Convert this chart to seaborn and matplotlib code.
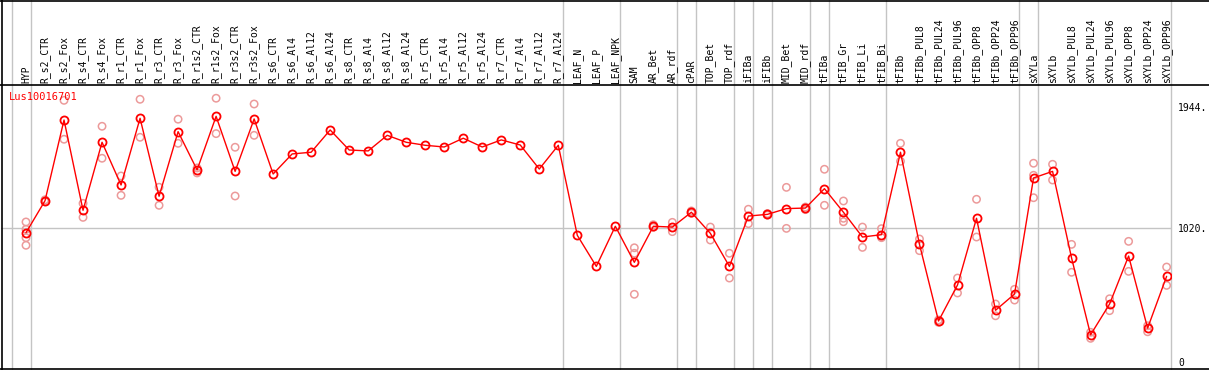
import matplotlib
matplotlib.use("Agg")
import matplotlib.pyplot as plt
import matplotlib.transforms as mtransforms
from matplotlib.lines import Line2D
import seaborn as sns
import pandas as pd

gene = "Lus10016701"

samples = ["HYP", "R_s2_CTR", "R_s2_Fox", "R_s4_CTR", "R_s4_Fox", "R_r1_CTR", "R_r1_Fox",
           "R_r3_CTR", "R_r3_Fox", "R_r1s2_CTR", "R_r1s2_Fox", "R_r3s2_CTR", "R_r3s2_Fox",
           "R_s6_CTR", "R_s6_Al4", "R_s6_Al12", "R_s6_Al24", "R_s8_CTR", "R_s8_Al4",
           "R_s8_Al12", "R_s8_Al24", "R_r5_CTR", "R_r5_Al4", "R_r5_Al12", "R_r5_Al24",
           "R_r7_CTR", "R_r7_Al4", "R_r7_Al12", "R_r7_Al24", "LEAF_N", "LEAF_P", "LEAF_NPK",
           "SAM", "AR_Bet", "AR_rdf", "cPAR", "TOP_Bet", "TOP_rdf", "iFIBa", "iFIBb",
           "MID_Bet", "MID_rdf", "tFIBa", "tFIB_Gr", "tFIB_Li", "tFIB_Bi", "tFIBb",
           "tFIBb_PUL8", "tFIBb_PUL24", "tFIBb_PUL96", "tFIBb_OPP8", "tFIBb_OPP24",
           "tFIBb_OPP96", "sXYLa", "sXYLb", "sXYLb_PUL8", "sXYLb_PUL24", "sXYLb_PUL96",
           "sXYLb_OPP8", "sXYLb_OPP24", "sXYLb_OPP96"]

mean_expr = [984, 1228, 1844, 1155, 1674, 1348, 1857, 1262, 1755, 1463, 1872, 1452, 1852,
             1432, 1585, 1598, 1768, 1615, 1608, 1727, 1674, 1651, 1638, 1705, 1638,
             1692, 1653, 1470, 1651, 964, 727, 1033, 758, 1033, 1027, 1140, 979, 727,
             1111, 1124, 1168, 1172, 1320, 1140, 951, 969, 1598, 895, 310, 585, 1094,
             392, 516, 1402, 1452, 791, 205, 440, 806, 256, 651]

# replicates (long format)
rep_sample = ["HYP"] * 4 + ["R_s2_CTR"] * 2 + ["R_s2_Fox"] * 2 + ["R_s4_CTR"] * 2 + \
    ["R_s4_Fox"] * 2 + ["R_r1_CTR"] * 2 + ["R_r1_Fox"] * 2 + ["R_r3_CTR"] * 2 + \
    ["R_r3_Fox"] * 2 + ["R_r1s2_CTR"] * 2 + ["R_r1s2_Fox"] * 2 + ["R_r3s2_CTR"] * 2 + \
    ["R_r3s2_Fox"] * 2 + ["SAM"] * 3 + ["AR_Bet"] * 2 + ["AR_rdf"] * 2 + ["cPAR"] * 2 + \
    ["TOP_Bet"] * 2 + ["TOP_rdf"] * 2 + ["iFIBa"] * 2 + ["iFIBb"] * 2 + ["MID_Bet"] * 2 + \
    ["MID_rdf"] * 2 + ["tFIBa"] * 2 + ["tFIB_Gr"] * 3 + ["tFIB_Li"] * 2 + ["tFIB_Bi"] * 2 + \
    ["tFIBb"] * 2 + ["tFIBb_PUL8"] * 2 + ["tFIBb_PUL24"] * 2 + ["tFIBb_PUL96"] * 2 + \
    ["tFIBb_OPP8"] * 2 + ["tFIBb_OPP24"] * 2 + ["tFIBb_OPP96"] * 2 + ["sXYLa"] * 3 + \
    ["sXYLb"] * 2 + ["sXYLb_PUL8"] * 2 + ["sXYLb_PUL24"] * 2 + ["sXYLb_PUL96"] * 2 + \
    ["sXYLb_OPP8"] * 2 + ["sXYLb_OPP24"] * 2 + ["sXYLb_OPP96"] * 2
rep_value = [1066, 1010, 946, 888, 1235, 1220, 1994, 1697, 1208, 1101, 1796, 1552,
             1417, 1269, 2002, 1712, 1331, 1193, 1850, 1666, 1478, 1440, 2010, 1740,
             1636, 1264, 1966, 1727, 869, 827, 514, 1045, 1025, 1063, 992, 1150, 1132,
             1027, 928, 827, 638, 1163, 1053, 1130, 1118, 1330, 1017, 1180, 1160,
             1468, 1193, 1226, 1094, 1068, 1027, 872, 1015, 946, 1666, 1529, 936, 847,
             318, 300, 638, 524, 1239, 951, 440, 350, 552, 470, 1514, 1422, 1251,
             1506, 1386, 895, 682, 224, 178, 480, 389, 918, 689, 274, 228, 722, 582]

ytick_vals = [0, 1020, 1944]
ytick_labels = ["0", "1020.", "1944."]

# group separators sit after these sample indices
group_ends = [-1, 0, 28, 31, 34, 35, 37, 38, 39, 41, 42, 45, 52, 53, 60]

pos = {s: i for i, s in enumerate(samples)}
df_mean = pd.DataFrame({"pos": range(len(samples)), "value": mean_expr})
df_rep = pd.DataFrame({"pos": [pos[s] for s in rep_sample], "value": rep_value})

sns.set_style("white")
plt.rcParams["font.family"] = ["DejaVu Sans Mono"]

W, H = 1209, 370
fig = plt.figure(figsize=(W / 100, H / 100), dpi=100)
ax = fig.add_axes([1 / W, 1 / H, 1170 / W, 284 / H])

grid_col = "#c4c4c4"
ax.axhline(1020, color=grid_col, lw=1, zorder=0)
for g in group_ends:
    ax.axvline(g + 0.25, ymin=0, ymax=369 / 284, color=grid_col, lw=1, clip_on=False, zorder=0)

sns.scatterplot(data=df_rep, x="pos", y="value", ax=ax, marker="o", s=28,
                facecolor="none", edgecolor="#ec9a9a", linewidth=1.1, zorder=2, legend=False)
sns.lineplot(data=df_mean, x="pos", y="value", ax=ax, color="#ff0000", lw=1,
             marker="o", markersize=5.8, markerfacecolor="none", markeredgecolor="#ff0000",
             markeredgewidth=1.3, zorder=3)

ax.set_xlim(-1.315, 60.23)
ax.set_ylim(-56, 2111)
ax.set_xticks([])
ax.set_xlabel("")
ax.set_ylabel("")
ax.yaxis.tick_right()
ax.set_yticks(ytick_vals)
ax.set_yticklabels(ytick_labels)
ax.tick_params(axis="y", length=0, pad=5, labelsize=7, labelcolor="black")
for sp in ax.spines.values():
    sp.set_visible(False)

trans = mtransforms.blended_transform_factory(ax.transData, ax.transAxes)
for i, s in enumerate(samples):
    ax.text(i, 1 + 2 / 284, s, transform=trans, rotation=90, ha="center", va="bottom",
            fontsize=7, color="black", clip_on=False)

ax.text(8 / 1170, (369 - 97) / 284, gene, transform=ax.transAxes, color="#ff0000",
        fontsize=7.5, ha="left", va="center")

# outer frame and header rule
for xs, ys in [([0, 1], [1 - 0.5 / H, 1 - 0.5 / H]),
               ([0, 1], [(H - 85) / H, (H - 85) / H]),
               ([0, 1], [1.5 / H, 1.5 / H]),
               ([1.5 / W, 1.5 / W], [0, 1])]:
    fig.add_artist(Line2D(xs, ys, color="black", lw=1.2, transform=fig.transFigure))

fig.savefig("out.png", dpi=100)
